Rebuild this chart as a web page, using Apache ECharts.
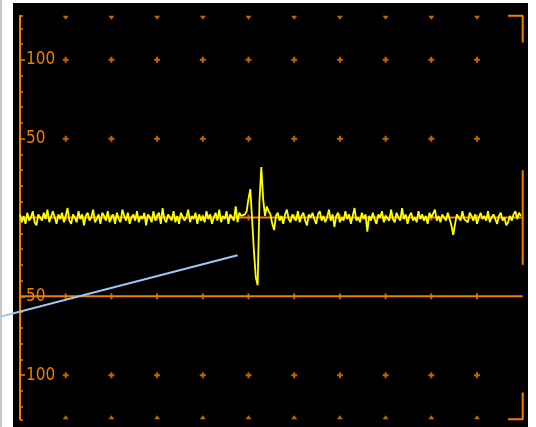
<!DOCTYPE html>
<html>
<head>
<meta charset="utf-8">
<script src="https://cdn.jsdelivr.net/npm/echarts@6/dist/echarts.min.js"></script>
<style>
  html, body { margin: 0; padding: 0; background: #ffffff; width: 536px; height: 427px; overflow: hidden; }
  #strip { position: absolute; left: 0; top: 0; width: 2px; height: 427px; background: #c8c8c8; }
  #screen { position: absolute; left: 13px; top: 3px; width: 515px; height: 424px; background: #000000; }
  #chart { position: absolute; left: 0; top: 0; width: 536px; height: 427px; }
</style>
</head>
<body>
<div id="strip"></div>
<div id="screen"></div>
<div id="chart"></div>
<script>
// Screen range (amplitude units) and time base (11 divisions of 50)
const ampMin = -128, ampMax = 128;
const timeMin = 0, timeMax = 550;
const sampleStep = 2;

// Graticule columns and rows
const gridColumns = [50, 100, 150, 200, 250, 300, 350, 400, 450, 500];
const plusRows = [100, 50, -100];
const tickRows = [0, -50];

// Axis ticks and labels
const majorTicks = [-100, -50, 50, 100];
const minorTicks = [-128, -120, -110, -90, -80, -70, -60, -40, -30, -20, -10, 10, 20, 30, 40, 60, 70, 80, 90, 110, 120, 128];
const labelValues = [-100, -50, 50, 100];

// Captured trace, one value every 2 time units
const traceA = [2,-3,1,-4,3,-2,0,4,-3,-5,2,1,-2,3,-1,5,-3,-2,4,0,-4,2,-1,3,-3,1,6,-2,-4,2,0,-3,4,-1,2,-5,1,3,-2,0,5,-3,-1,2,-4,3,1,-2,4,-3];
const traceB = [0,2,-4,3,-1,-3,5,1,-2,3,-4,0,2,-2,4,-3,1,-1,3,-5,2,0,-3,4,-2,1,3,-4,6,-1,-3,2,0,-2,4,-3,1,-4,3,2,-2,0,5,-3,1,-1,3,-4,2,-2];
const traceC = [1,-3,4,-1,2,-4,0,3,-2,5,-3,1,-1,4,-4,2,0,-2,7,-3,3,1,2];
const traceBurst = [2,4,12,18,19,-22,-38,-43,10,32,12,1,7,4,2,-4,-8,1];
const traceD = [3,-2,1,-4,2,5,-1,-3,2,0,-2,4,-3,1,3,-2,-5,2,0,3,-1,-4,2,4,-2,1,-3,0,5,-2,2,-6,1,3,-3,0,-2,4,-1,2,-4,1,6,-2,0,-3,3,-1,2,-9];
const traceE = [1,-2,3,-1,-4,2,0,4,-3,1,2,-2,5,-1,-3,3,0,-2,6,-1,2,-4,1,3,-2,0,-3,4,-1,2,-2,1,-4,3,0,-1,5,-2,1,-3,2,0,-2,3,-1,-5,-11,-4,2,1,-2,4,-1,0,-3,3,1,-2,2,-4,0,3,-1,1,-2,4,-3,0,2,-1,-4,1,3,-2,0,-5,-3,1,-2,2,4,-1,3,1];

// Level markers and pointer
const zeroLevel = [[timeMin, 0], [timeMax, 0]];
const gateLevel = [[timeMin, -50], [timeMax, -50]];
const rightMarker = [[timeMax, -30], [timeMax, 30]];
const cornerTop = [[534, ampMax], [timeMax, ampMax], [timeMax, 111]];
const cornerBottom = [[534, ampMin], [timeMax, ampMin], [timeMax, -111]];
const pointerStart = [-22, -63];
const pointerEnd = [238, -24];

const ORANGE = '#f27d00';
const YELLOW = '#ffff00';
const BLUE = '#9ccaf4';

const traceValues = [].concat(traceA, traceB, traceC, traceBurst, traceD, traceE);
const traceData = traceValues.map((v, i) => [timeMin + i * sampleStep, v]);

function gridPoints(rows) {
  const pts = [];
  rows.forEach(r => gridColumns.forEach(c => pts.push([c, r])));
  return pts;
}

const plainLine = (data, color, width, z) => ({
  type: 'line', data, symbol: 'none', silent: true, clip: false, z,
  lineStyle: { color, width }, animation: false
});

const markerSeries = (data, symbol, size, offset) => ({
  type: 'scatter', data, symbol, symbolSize: size, symbolOffset: offset || [0, 0],
  silent: true, clip: false, z: 3,
  itemStyle: { color: ORANGE }, animation: false
});

const chart = echarts.init(document.getElementById('chart'), null, { renderer: 'canvas' });

const axisBase = {
  type: 'value', min: ampMin, max: ampMax, position: 'left',
  splitLine: { show: false }
};

chart.setOption({
  backgroundColor: 'transparent',
  animation: false,
  grid: { left: 20, right: 13.3, top: 15.7, bottom: 7.7, containLabel: false },
  xAxis: { type: 'value', min: timeMin, max: timeMax, show: false },
  yAxis: [
    Object.assign({}, axisBase, {
      axisLine: { show: true, lineStyle: { color: ORANGE, width: 2 } },
      axisTick: { show: true, inside: true, length: 3, customValues: minorTicks, lineStyle: { color: ORANGE, width: 1.5 } },
      axisLabel: {
        show: true, inside: true, margin: 6, customValues: labelValues,
        color: ORANGE, fontSize: 17,
        fontFamily: "'Liberation Sans Narrow', 'DejaVu Sans Condensed', sans-serif",
        formatter: v => String(Math.abs(v))
      }
    }),
    Object.assign({}, axisBase, {
      axisLine: { show: false },
      axisTick: { show: true, inside: true, length: 5, customValues: majorTicks, lineStyle: { color: ORANGE, width: 1.5 } },
      axisLabel: { show: false }
    })
  ],
  series: [
    plainLine(zeroLevel, ORANGE, 2, 2),
    plainLine(gateLevel, ORANGE, 2, 2),
    plainLine(rightMarker, ORANGE, 2, 2),
    plainLine(cornerTop, ORANGE, 2, 2),
    plainLine(cornerBottom, ORANGE, 2, 2),
    markerSeries(gridPoints(plusRows), 'path://M2,0H4V2H6V4H4V6H2V4H0V2H2Z', 6),
    markerSeries(gridPoints(tickRows), 'rect', [2, 6]),
    markerSeries(gridPoints([ampMax]), 'path://M0,0H6L3,4Z', [6, 4], [0, 2]),
    markerSeries(gridPoints([ampMin]), 'path://M3,0L6,4H0Z', [6, 4], [0, -2]),
    Object.assign(plainLine(traceData, YELLOW, 1.8, 5), { clip: true }),
    {
      type: 'custom', silent: true, z: 6, clip: false,
      data: [[pointerStart[0], pointerStart[1], pointerEnd[0], pointerEnd[1]]],
      renderItem: (params, api) => {
        const a = api.coord([api.value(0), api.value(1)]);
        const b = api.coord([api.value(2), api.value(3)]);
        return {
          type: 'line',
          shape: { x1: a[0], y1: a[1], x2: b[0], y2: b[1] },
          style: { stroke: BLUE, lineWidth: 2 }
        };
      }
    }
  ]
});
</script>
</body>
</html>
